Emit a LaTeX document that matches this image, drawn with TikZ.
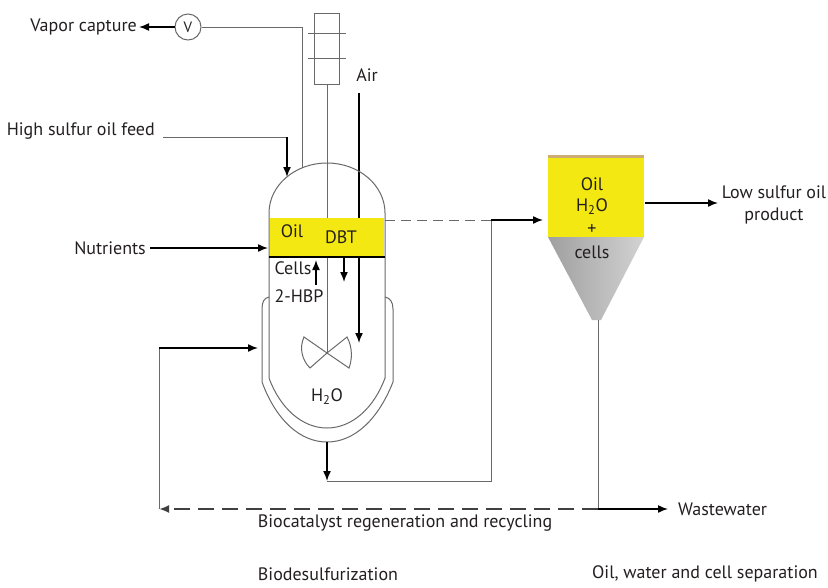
\documentclass[tikz,border=0pt]{standalone}
\usepackage{fontspec}
\setmainfont{PT Sans}
\usetikzlibrary{arrows.meta}

\definecolor{pipegray}{RGB}{105,105,105}
\definecolor{oilyellow}{RGB}{244,232,18}
\definecolor{oiltop}{RGB}{205,172,118}
\definecolor{txt}{RGB}{35,31,32}

\tikzset{
  pipe/.style={draw=pipegray, line width=1pt},
  flow/.style={draw=black, line width=1.5pt, -{Latex[length=10pt,width=8pt]}},
  lbl/.style={text=txt, inner sep=0pt, font=\fontsize{18}{22}\selectfont},
}

\begin{document}
\begin{tikzpicture}[x=1pt,y=-1pt]
  \useasboundingbox (0,0) rectangle (828,587);

  % vent and valve
  \node[lbl, anchor=east] (vapor) at (137,27) {Vapor capture};
  \node[circle, draw=pipegray, line width=1pt, minimum size=26pt, inner sep=0pt, text=txt, font=\fontsize{15}{15}\selectfont] (valve) at (188,27) {V};
  \coordinate (vent) at (302,27);
  \coordinate (ventin) at (302,168);
  \draw[flow, shorten >=2pt] (valve) -- (vapor);
  \draw[pipe] (valve) -- (vent) -- (ventin);

  % stirrer drive and shaft
  \node[pipe, minimum width=25pt, minimum height=71pt, inner sep=0pt] (motor) at (327,48.5) {};
  \draw[pipe] (308,33) -- (346,33);
  \draw[pipe] (308,58) -- (346,58);
  \coordinate (hub) at (327,353);
  \draw[pipe] (motor.south) -- (hub);

  % air sparger
  \node[lbl] (air) at (367,75) {Air};
  \coordinate (airin) at (359,93);
  \coordinate (sparge) at (359,343);
  \draw[flow] (airin) -- (sparge);

  % feeds
  \node[lbl, anchor=east] (feed) at (155,131) {High sulfur oil feed};
  \coordinate (feedout) at (163,137);
  \coordinate (feedbend) at (287,137);
  \coordinate (feedin) at (287,177);
  \draw[pipe] (feedout) -- (feedbend);
  \draw[flow] (feedbend) -- (feedin);

  \node[lbl, anchor=east] (nutr) at (146,248) {Nutrients};
  \coordinate (nutrin) at (268,248);
  \draw[flow, shorten <=4pt] (nutr.east |- nutrin) -- (nutrin);

  % reactor vessel
  \draw[pipe] (269,378) -- (269,213)
    .. controls (269,185.4) and (295,163) .. (327,163)
    .. controls (359,163) and (385,185.4) .. (385,213) -- (385,378)
    .. controls (374,408) and (352,428) .. (327,428)
    .. controls (302,428) and (280,408) .. (269,378);

  % cooling jacket
  \draw[pipe] (269,297) .. controls (264,298) and (262,302) .. (262,309) -- (262,382)
    .. controls (276,420) and (300,442) .. (327,442)
    .. controls (354,442) and (378,420) .. (393,382) -- (393,309)
    .. controls (393,302) and (390,298) .. (385,297);

  % oil layer
  \fill[oilyellow] (270,218) rectangle (384,257);
  \draw[line width=2pt] (269,257) -- (385,257);
  \node[lbl] (oil) at (292,231) {Oil};
  \node[lbl] (dbt) at (341,237) {DBT};
  \node[lbl] (cells) at (293,268) {Cells};
  \node[lbl] (hbp) at (299,296) {2-HBP};
  \draw[flow] (316,285) -- (316,260);
  \draw[flow] (344,258) -- (344,282);

  % impeller
  \draw[pipe] (hub) -- (304,337) .. controls (299,348) and (302,360) .. (310,368) -- cycle;
  \draw[pipe] (hub) -- (347,337) .. controls (353,348) and (352,360) .. (349,368) -- cycle;
  \node[lbl] (water) at (327,397) {H\textsubscript{2}O};

  % outlet to separator
  \coordinate (drain) at (327,442);
  \coordinate (drainbend) at (327,481);
  \coordinate (riser) at (491,481);
  \coordinate (tee) at (491,220);
  \coordinate (overflow) at (385,220);
  \coordinate (sepin) at (543,220);
  \draw[flow] (drain) -- (drainbend);
  \draw[pipe] (drainbend) -- (riser) -- (tee);
  \draw[pipe, dash pattern=on 10pt off 6pt] (overflow) -- (tee);
  \draw[flow] (tee) -- (sepin);

  % settler
  \draw[oiltop, line width=3pt] (548,156) -- (644,156);
  \fill[oilyellow] (548,157.5) rectangle (644,237);
  \shade[left color=gray!75, middle color=gray!12, right color=gray!35]
    (548,237) -- (644,237) -- (601,320) -- (592,320) -- cycle;
  \node[lbl] (sepoil) at (592,184) {Oil};
  \node[lbl] (sepwater) at (592,207) {H\textsubscript{2}O};
  \node[lbl] (sepplus) at (592,229) {+};
  \node[lbl] (sepcells) at (592,252) {cells};

  \coordinate (sepout) at (645,203);
  \coordinate (prodin) at (718,203);
  \node[lbl, align=center] (product) at (774,205) {Low sulfur oil\\product};
  \draw[flow] (sepout) -- (prodin);

  % wastewater and recycle loop
  \coordinate (sepdrain) at (598,320);
  \coordinate (wastetee) at (598,509);
  \coordinate (wasteout) at (668,509);
  \coordinate (recycle) at (159,509);
  \coordinate (loopbend) at (159,348);
  \coordinate (jacketin) at (258,348);
  \draw[pipe] (sepdrain) -- (wastetee);
  \draw[flow] (wastetee) -- (wasteout);
  \node[lbl, anchor=west] (waste) at (678,509) {Wastewater};
  \draw[flow, draw=black!75, line width=2pt, dash pattern=on 16pt off 8pt] (wastetee) -- (recycle);
  \draw[pipe] (recycle) -- (loopbend);
  \draw[flow] (loopbend) -- (jacketin);

  \node[lbl] (regen) at (405,523) {Biocatalyst regeneration and recycling};
  \node[lbl] (bds) at (328,574) {Biodesulfurization};
  \node[lbl] (sep) at (705,574) {Oil, water and cell separation};
\end{tikzpicture}
\end{document}
